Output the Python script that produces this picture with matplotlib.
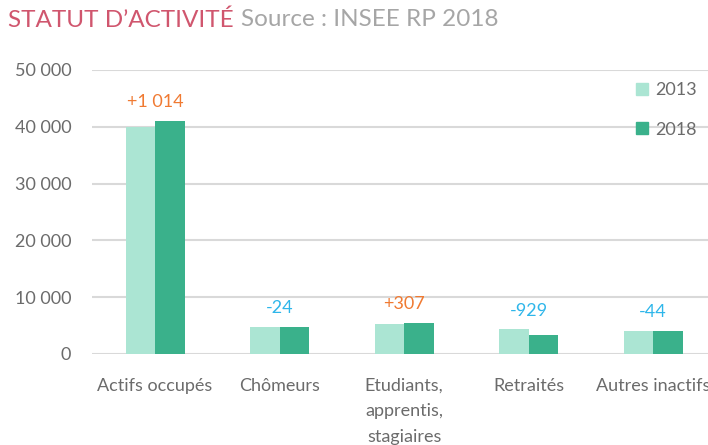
import numpy as np
import matplotlib.pyplot as plt
from matplotlib.patches import Rectangle
from matplotlib.ticker import FuncFormatter

plt.rcParams['font.family'] = ['Lato', 'DejaVu Sans']

# données
categories = ['Actifs occupés', 'Chômeurs', 'Etudiants,\napprentis,\nstagiaires',
              'Retraités', 'Autres inactifs']
val_2013 = [40000, 4720, 5200, 4350, 4070]
val_2018 = [41014, 4696, 5507, 3421, 4026]
years = ['2013', '2018']

c13 = '#abe5d3'
c18 = '#3ab18b'
c_plus = '#f07a32'
c_minus = '#2eb6ea'
c_text = '#6b6b6b'

fig = plt.figure(figsize=(7.08, 4.45), dpi=100)
ax = fig.add_axes([92/708, 1-354/445, 616/708, 284/445])

x = np.arange(len(categories))
w = 0.237
ax.bar(x - w/2, val_2013, w, color=c13, zorder=3)
ax.bar(x + w/2, val_2018, w, color=c18, zorder=3)

# écart 2013 -> 2018 au-dessus des barres
for xi, a, b in zip(x, val_2013, val_2018):
    d = b - a
    txt = f"{d:+,}".replace(',', ' ')
    ax.text(xi, max(a, b) + 3300, txt, ha='center', va='center', fontsize=13,
            color=c_plus if d > 0 else c_minus)

ax.set_ylim(0, 50000)
ax.set_xlim(-0.506, 4.44)
ax.set_yticks(range(0, 50001, 10000))
ax.yaxis.set_major_formatter(FuncFormatter(lambda v, p: f"{int(v):,}".replace(',', ' ')))
ax.grid(axis='y', color='#d9d9d9', linewidth=1.5, zorder=0)
for s in ax.spines.values():
    s.set_visible(False)
ax.tick_params(axis='both', length=0, labelsize=13, colors=c_text)
ax.tick_params(axis='y', pad=15)
ax.tick_params(axis='x', pad=17)
ax.set_xticks(x)
ax.set_xticklabels(categories, linespacing=1.75)

handles = [Rectangle((0, 0), 1, 1, color=c) for c in (c13, c18)]
leg = fig.legend(handles, years, loc='upper left', bbox_to_anchor=(620/708, 1-66/445),
                 frameon=False, fontsize=13, handlelength=0.65, handleheight=0.65,
                 handletextpad=0.4, labelspacing=1.3)
for t in leg.get_texts():
    t.set_color(c_text)

t1 = fig.text(8/708, 1-20/445, 'STATUT D’ACTIVITÉ', fontsize=17.5, color='#d0566e',
              va='center', ha='left')
fig.canvas.draw()
bb = t1.get_window_extent()
fig.text((bb.x1 + 7)/708, 1-20/445, 'Source : INSEE RP 2018', fontsize=17.5,
         color='#a6a6a6', va='center', ha='left')

fig.savefig('out.png', dpi=100)
